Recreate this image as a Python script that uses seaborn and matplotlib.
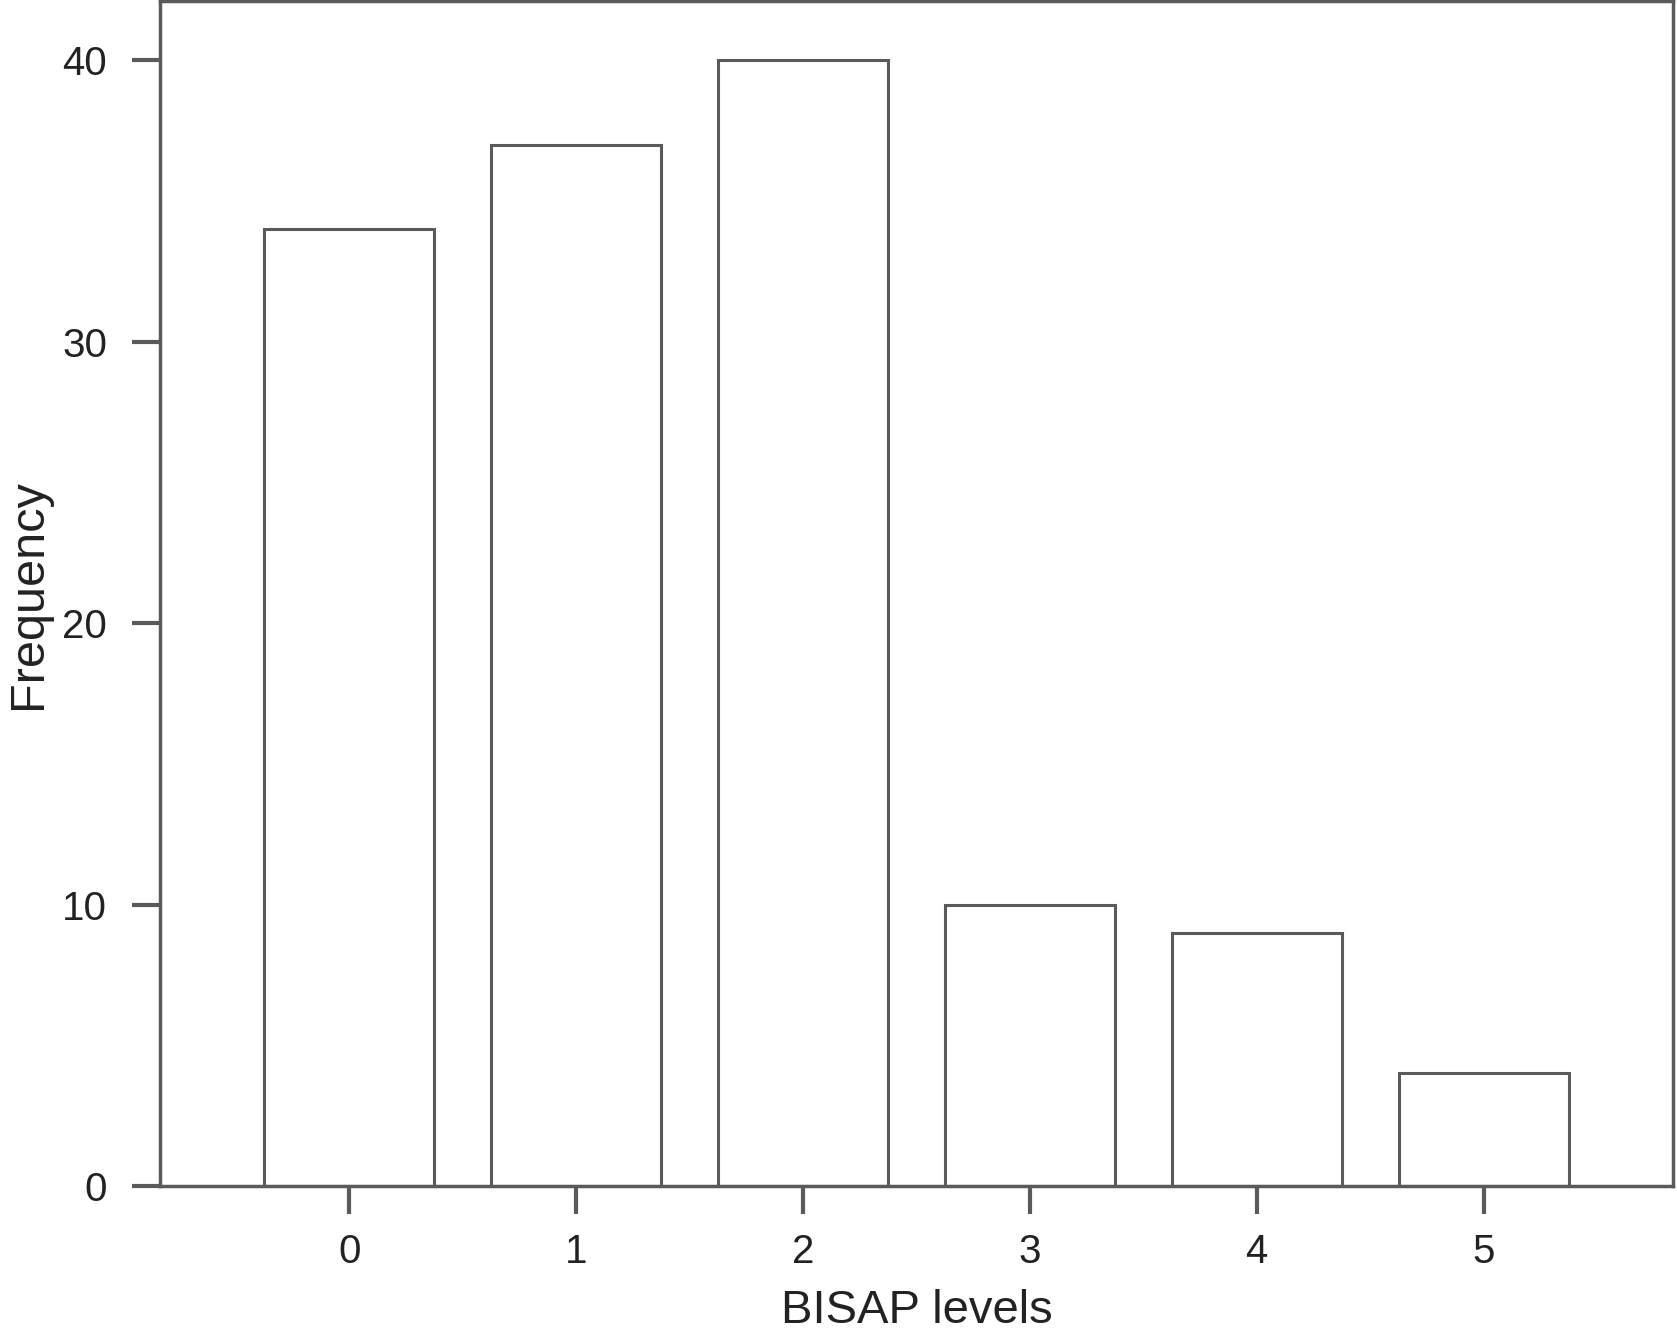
import matplotlib
matplotlib.use("Agg")
import matplotlib.pyplot as plt
import seaborn as sns
import pandas as pd

# BISAP levels and their observed frequencies
levels = [0, 1, 2, 3, 4, 5]
frequency = [34, 37, 40, 10, 9, 4]
y_ticks = [0, 10, 20, 30, 40]

df = pd.DataFrame({'level': levels, 'freq': frequency})

sns.set_theme(style="white")
plt.rcParams['font.family'] = ['Liberation Sans', 'DejaVu Sans']

line_col = '#5a5a5a'
text_col = '#222222'

fig = plt.figure(figsize=(16.77, 13.34), dpi=100)
ax = fig.add_axes([0.0954, 0.111, 0.9022, 0.888])

sns.barplot(data=df, x='level', y='freq', color='white', edgecolor=line_col,
            linewidth=2.2, width=0.75, saturation=1, ax=ax)

ax.set_xlim(-0.835, 5.835)
ax.set_ylim(0, 42.1)
ax.set_yticks(y_ticks)

for side in ['left', 'right', 'top', 'bottom']:
    ax.spines[side].set_visible(True)
    ax.spines[side].set_color(line_col)
    ax.spines[side].set_linewidth(2.5)

ax.tick_params(axis='both', which='major', direction='out', length=20, width=3,
               color=line_col, labelsize=29, labelcolor=text_col,
               bottom=True, left=True)
ax.tick_params(axis='y', pad=18)
ax.tick_params(axis='x', pad=14)

ax.set_xlabel('BISAP levels', fontsize=34, color=text_col, labelpad=13)
ax.set_ylabel('Frequency', fontsize=35, color=text_col, labelpad=8)

fig.savefig('out.png', dpi=100, facecolor='white')
